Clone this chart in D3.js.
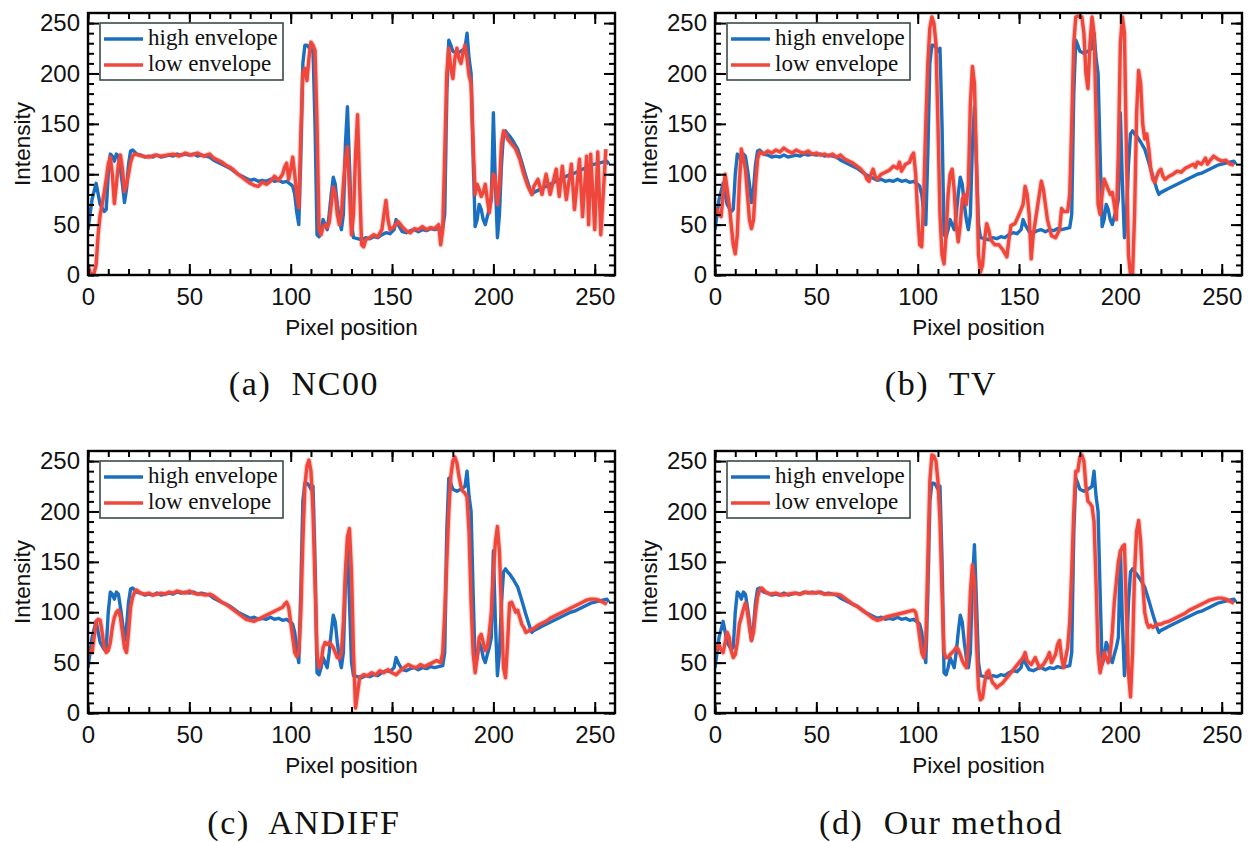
<!DOCTYPE html>
<html>
<head>
<meta charset="utf-8">
<script src="https://cdn.jsdelivr.net/npm/d3@7"></script>
<style>
  body { margin: 0; background: #fff; }
  .tick text { font-family: "Liberation Sans", Arial, sans-serif; font-size: 24px; fill: #111; }
  .axis-label { font-family: "Liberation Sans", Arial, sans-serif; font-size: 22.5px; fill: #111; }
  .legend text { font-family: "Liberation Serif", "Times New Roman", serif; font-size: 23px; fill: #111; }
  .caption { font-family: "Liberation Serif", "Times New Roman", serif; font-size: 34px; letter-spacing: 1.6px; fill: #111; }
</style>
</head>
<body>
<div id="chart"></div>
<script>
// tick labels & legend / caption texts
const xMajor = [0, 50, 100, 150, 200, 250];
const yMajor = [0, 50, 100, 150, 200, 250];
const minorTicks = d3.range(0, 260, 10);
const legendLabels = ["high envelope", "low envelope"];
const captions = ["(a)  NC00", "(b)  TV", "(c)  ANDIFF", "(d)  Our method"];

// high envelope (same reference in every panel)
const highEnvelope = [[0,45],[2,75],[4,91],[6,70],[8,63],[9,65],[10,100],[11,120],[12,118],[13,113],[14,120],[15,118],[16,105],[17,90],[18,72],[19,85],[20,110],[21,123],[22,124],[24,120],[26,119],[28,117],[30,118],[32,117],[34,119],[36,117],[38,118],[40,119],[42,118],[44,120],[46,119],[48,120],[50,119],[52,120],[54,118],[56,119],[58,118],[60,117],[62,114],[64,112],[66,110],[68,108],[70,106],[72,103],[74,100],[76,98],[78,96],[80,94],[82,95],[84,93],[86,94],[88,93],[90,95],[92,93],[94,94],[96,92],[98,93],[100,90],[101,88],[102,80],[103,62],[104,50],[105,120],[106,210],[107,228],[108,228],[109,226],[110,222],[111,225],[112,150],[113,40],[114,38],[115,45],[116,55],[117,50],[118,45],[119,60],[120,80],[121,97],[122,90],[123,70],[124,55],[125,45],[126,60],[127,130],[128,167],[129,110],[130,50],[131,37],[133,36],[135,35],[137,37],[139,36],[141,38],[143,37],[145,40],[147,42],[149,41],[151,45],[152,55],[153,50],[155,43],[157,42],[159,44],[161,45],[163,43],[165,45],[167,44],[169,46],[171,45],[173,46],[175,47],[176,60],[177,180],[178,233],[179,228],[180,222],[182,220],[184,222],[186,225],[187,240],[188,215],[189,200],[190,120],[191,48],[192,55],[193,70],[194,65],[195,55],[196,50],[197,58],[198,65],[199,75],[200,161],[201,90],[202,37],[203,60],[204,110],[205,140],[206,143],[207,140],[208,138],[210,132],[212,125],[214,112],[216,98],[218,85],[219,80],[220,82],[222,84],[224,86],[226,88],[228,90],[230,92],[232,94],[234,96],[236,98],[238,100],[240,101],[242,103],[244,105],[246,107],[248,109],[250,110],[252,111],[254,112],[256,113],[257,110]];

// low envelope, one per method
const lowNC00 = [[0,10],[1,3],[2,0],[3,2],[4,10],[5,40],[6,60],[7,70],[8,82],[9,95],[10,110],[11,117],[12,100],[13,71],[14,90],[15,110],[16,119],[17,105],[18,83],[19,90],[20,100],[21,112],[22,118],[23,120],[25,119],[27,118],[30,117],[33,119],[36,118],[39,119],[42,120],[45,118],[48,121],[51,119],[54,121],[57,118],[60,120],[62,116],[64,114],[66,112],[68,109],[70,107],[72,104],[74,100],[76,97],[78,94],[80,91],[82,89],[84,88],[86,92],[88,90],[90,93],[92,98],[94,94],[96,100],[97,107],[98,111],[99,95],[100,105],[101,117],[102,100],[103,80],[104,67],[105,140],[106,200],[107,205],[108,193],[109,215],[110,231],[111,228],[112,223],[113,150],[114,45],[115,40],[116,48],[117,50],[118,47],[119,52],[120,70],[121,87],[122,80],[123,60],[124,50],[125,60],[126,90],[127,115],[128,127],[129,85],[130,40],[131,60],[132,120],[133,159],[134,90],[135,30],[136,28],[137,35],[139,37],[141,40],[143,38],[145,45],[146,60],[147,74],[148,55],[149,45],[151,48],[153,53],[155,48],[157,44],[159,42],[161,46],[163,45],[165,48],[167,45],[169,47],[171,46],[173,50],[174,30],[175,45],[176,120],[177,200],[178,225],[179,205],[180,195],[181,215],[182,225],[183,215],[184,210],[185,220],[186,228],[187,215],[188,198],[189,190],[190,130],[191,80],[192,90],[193,85],[194,78],[195,82],[196,90],[197,75],[198,62],[199,80],[200,100],[201,95],[202,70],[203,90],[204,130],[205,143],[206,140],[207,135],[209,130],[211,125],[213,115],[215,100],[217,88],[219,80],[220,88],[222,95],[224,80],[226,100],[228,80],[231,105],[232.5,78],[234,108],[236,75],[238.5,110],[240,65],[242.5,115],[244,58],[246,118],[247,50],[248,120],[250,45],[251.5,122],[253,40],[255.5,125]];

const lowTV = [[0,62],[1,65],[2,60],[3,58],[4,80],[5,100],[6,85],[7,70],[8,50],[9,30],[10,21],[11,40],[12,90],[13,125],[14,115],[15,105],[16,80],[17,55],[18,46],[19,55],[20,90],[21,115],[22,122],[24,120],[26,123],[28,121],[30,124],[32,122],[34,126],[36,123],[38,121],[40,124],[42,122],[44,121],[46,123],[48,120],[50,121],[52,119],[54,120],[56,118],[58,120],[60,117],[62,119],[64,115],[66,113],[68,111],[70,108],[72,105],[74,100],[75,95],[76,93],[77,100],[78,105],[79,98],[80,95],[82,100],[84,102],[86,104],[88,108],[90,106],[91,112],[92,103],[94,110],[96,112],[97,118],[98,121],[99,100],[100,60],[101,30],[102,28],[103,80],[104,150],[105,210],[106,245],[107,256],[108,250],[109,230],[110,150],[111,60],[112,20],[113,11],[114,40],[115,80],[116,100],[117,105],[118,85],[119,50],[120,33],[121,50],[122,75],[123,80],[124,70],[125,90],[126,170],[127,207],[128,190],[129,110],[130,20],[131,3],[132,10],[133,35],[134,51],[135,45],[136,35],[138,30],[140,30],[142,25],[144,18],[145,35],[146,49],[148,51],[150,60],[152,70],[153,88],[154,80],[155,60],[156,16],[157,40],[158,53],[160,80],[161,93],[162,85],[163,70],[164,55],[166,39],[168,37],[170,45],[171,66],[172,63],[174,63],[175,80],[176,150],[177,230],[178,256],[179,257],[180,256],[181,256],[182,240],[183,200],[184,185],[185,230],[186,256],[187,240],[188,160],[189,70],[190,60],[191,80],[192,95],[193,90],[194,85],[195,80],[196,82],[197,70],[198,55],[199,120],[200,230],[201,256],[202,240],[203,120],[204,20],[205,0],[206,0],[207,60],[208,160],[209,203],[210,190],[211,150],[212,135],[213,140],[214,125],[215,105],[216,95],[217,92],[218,98],[219,103],[220,105],[221,98],[222,95],[224,98],[226,100],[228,103],[230,102],[232,106],[234,108],[236,110],[237,107],[238,112],[240,110],[242,116],[243,110],[244,113],[246,118],[248,115],[250,113],[252,114],[254,110],[256,109]];

const lowANDIFF = [[0,58],[1,62],[2,60],[3,75],[4,90],[5,93],[6,92],[7,80],[8,65],[9,60],[10,62],[11,70],[12,85],[13,95],[14,100],[15,102],[16,95],[17,80],[18,65],[19,60],[20,80],[21,105],[22,115],[23,120],[24,122],[26,119],[28,118],[30,119],[32,117],[34,118],[36,119],[38,118],[40,120],[42,119],[44,121],[46,120],[48,119],[50,121],[52,119],[54,118],[56,118],[58,117],[60,118],[62,116],[64,113],[66,110],[68,108],[70,105],[72,102],[74,99],[76,96],[78,93],[80,92],[82,91],[84,93],[86,95],[88,97],[90,99],[92,101],[94,103],[96,105],[97,108],[98,110],[99,105],[100,90],[101,75],[102,60],[103,56],[104,60],[105,100],[106,170],[107,225],[108,245],[109,251],[110,240],[111,200],[112,130],[113,60],[114,45],[115,50],[116,65],[117,70],[118,68],[119,70],[120,68],[121,65],[122,60],[123,55],[124,54],[125,60],[126,90],[127,140],[128,175],[129,183],[130,140],[131,60],[132,5],[133,20],[134,35],[136,38],[138,37],[140,40],[142,38],[144,42],[146,40],[148,43],[150,40],[152,38],[154,42],[156,45],[158,48],[160,46],[162,45],[164,48],[166,46],[168,48],[170,50],[172,52],[174,50],[175,60],[176,100],[177,150],[178,200],[179,235],[180,250],[181,254],[182,248],[183,235],[184,225],[185,220],[186,218],[187,214],[188,180],[189,110],[190,60],[191,40],[192,55],[193,75],[194,78],[195,70],[196,62],[197,65],[198,80],[199,100],[200,140],[201,170],[202,185],[203,160],[204,100],[205,45],[206,35],[207,70],[208,109],[209,110],[210,105],[211,100],[212,102],[213,95],[214,88],[215,85],[216,80],[218,82],[220,84],[222,87],[224,89],[226,91],[228,94],[230,96],[232,98],[234,100],[236,102],[238,104],[240,106],[242,108],[244,110],[246,112],[248,113],[250,113],[252,112],[254,110],[256,108]];

const lowOurs = [[0,60],[1,65],[2,68],[3,62],[4,60],[5,70],[6,80],[7,75],[8,62],[9,55],[10,58],[11,70],[12,88],[13,95],[14,103],[15,109],[16,100],[17,85],[18,72],[19,80],[20,100],[21,115],[22,122],[23,124],[25,120],[27,118],[30,119],[33,117],[36,118],[39,119],[42,118],[45,120],[48,119],[51,120],[54,118],[57,118],[60,118],[62,117],[64,114],[66,111],[68,108],[70,106],[72,103],[74,100],[76,97],[78,94],[80,92],[82,93],[84,95],[86,96],[88,97],[90,98],[92,99],[94,100],[96,101],[98,102],[99,100],[100,90],[101,75],[102,60],[103,55],[104,70],[105,150],[106,230],[107,256],[108,255],[109,250],[110,230],[111,190],[112,120],[113,60],[114,55],[115,55],[116,58],[117,60],[118,62],[119,65],[120,63],[121,58],[122,52],[123,48],[124,45],[125,70],[126,120],[127,147],[128,130],[129,70],[130,25],[131,13],[132,15],[133,30],[134,40],[135,42],[136,35],[137,30],[138,28],[139,25],[140,27],[142,30],[144,35],[146,40],[148,45],[150,50],[152,55],[153,60],[154,52],[156,48],[158,55],[160,45],[162,48],[164,55],[165,60],[166,50],[168,58],[169,68],[170,72],[171,55],[172,45],[173,55],[174,65],[175,90],[176,140],[177,200],[178,240],[179,240],[180,254],[181,256],[182,250],[183,225],[184,210],[185,208],[186,205],[187,190],[188,130],[189,60],[190,40],[191,50],[192,60],[193,55],[194,50],[195,60],[196,80],[197,110],[198,130],[199,150],[200,160],[201,165],[202,167],[203,100],[204,40],[205,16],[206,60],[207,140],[208,180],[209,191],[210,170],[211,130],[212,100],[213,90],[214,85],[215,87],[216,85],[218,88],[220,88],[222,90],[224,91],[226,93],[228,95],[230,97],[232,99],[234,102],[236,104],[238,106],[240,108],[242,110],[244,112],[246,113],[248,114],[250,114],[252,113],[254,111],[256,109]];

const lowSeries = [lowNC00, lowTV, lowANDIFF, lowOurs];

const BLUE = "#1b6fc0";
const RED = "#f0473c";

const panels = [
    { left: 88, top: 13, capX: 304, capY: 395 },
    { left: 715, top: 13, capX: 941, capY: 395 },
    { left: 88, top: 451, capX: 304, capY: 834 },
    { left: 715, top: 451, capX: 941, capY: 834 }
];
const width = 527, height = 262;

const svg = d3.select("#chart").append("svg")
    .attr("width", 1249)
    .attr("height", 842);

panels.forEach(function (p, i) {
    const x = d3.scaleLinear().domain([0, 260]).range([0, width]);
    const y = d3.scaleLinear().domain([0, 260]).range([height, 0]);

    const g = svg.append("g").attr("transform", "translate(" + p.left + "," + p.top + ")");

    const clipId = "clip" + i;
    g.append("clipPath").attr("id", clipId)
        .append("rect").attr("width", width).attr("height", height);

    const line = d3.line().x(d => x(d[0])).y(d => y(d[1]));

    const plot = g.append("g").attr("clip-path", "url(#" + clipId + ")");
    plot.append("path").datum(highEnvelope)
        .attr("fill", "none").attr("stroke", BLUE).attr("stroke-width", 3.4)
        .attr("stroke-linejoin", "round").attr("d", line);
    // soft halo under the red line, like the blurred original
    plot.append("path").datum(lowSeries[i])
        .attr("fill", "none").attr("stroke", RED).attr("stroke-width", 5.5)
        .attr("stroke-opacity", 0.25).attr("stroke-linejoin", "round").attr("d", line);
    plot.append("path").datum(lowSeries[i])
        .attr("fill", "none").attr("stroke", RED).attr("stroke-width", 3.4)
        .attr("stroke-linejoin", "round").attr("d", line);

    // minor ticks on all four sides
    const minorAxes = [
        { ax: d3.axisBottom(x), t: "translate(0," + height + ")" },
        { ax: d3.axisTop(x), t: "translate(0,0)" },
        { ax: d3.axisLeft(y), t: "translate(0,0)" },
        { ax: d3.axisRight(y), t: "translate(" + width + ",0)" }
    ];
    minorAxes.forEach(function (m) {
        g.append("g").attr("transform", m.t)
            .call(m.ax.tickValues(minorTicks).tickSize(-6).tickFormat(""))
            .call(s => s.select(".domain").remove())
            .selectAll("line").attr("stroke", "#000").attr("stroke-width", 2);
    });

    // major ticks + labels
    g.append("g").attr("class", "axis-x").attr("transform", "translate(0," + height + ")")
        .call(d3.axisBottom(x).tickValues(xMajor).tickSize(-11).tickPadding(13))
        .call(s => s.select(".domain").remove())
        .selectAll("line").attr("stroke", "#000").attr("stroke-width", 2);
    g.append("g").attr("class", "axis-y")
        .call(d3.axisLeft(y).tickValues(yMajor).tickSize(-11).tickPadding(8))
        .call(s => s.select(".domain").remove())
        .selectAll("line").attr("stroke", "#000").attr("stroke-width", 2);
    g.append("g")
        .call(d3.axisTop(x).tickValues(xMajor).tickSize(-11).tickFormat(""))
        .call(s => s.select(".domain").remove())
        .selectAll("line").attr("stroke", "#000").attr("stroke-width", 2);
    g.append("g").attr("transform", "translate(" + width + ",0)")
        .call(d3.axisRight(y).tickValues(yMajor).tickSize(-11).tickFormat(""))
        .call(s => s.select(".domain").remove())
        .selectAll("line").attr("stroke", "#000").attr("stroke-width", 2);

    g.selectAll(".tick text").attr("fill", "#111");

    // frame
    g.append("rect").attr("width", width).attr("height", height)
        .attr("fill", "none").attr("stroke", "#000").attr("stroke-width", 2.4);

    // axis titles
    g.append("text").attr("class", "axis-label")
        .attr("x", width / 2).attr("y", height + 60)
        .attr("text-anchor", "middle").text("Pixel position");
    g.append("text").attr("class", "axis-label")
        .attr("transform", "translate(" + (-58) + "," + (height / 2) + ") rotate(-90)")
        .attr("text-anchor", "middle").text("Intensity");

    // legend
    const leg = g.append("g").attr("class", "legend").attr("transform", "translate(12,10)");
    leg.append("rect").attr("width", 183).attr("height", 57)
        .attr("fill", "#fff").attr("stroke", "#3a4a4a").attr("stroke-width", 1.6);
    [BLUE, RED].forEach(function (c, k) {
        const ly = 16 + k * 26;
        leg.append("line").attr("x1", 4).attr("x2", 43).attr("y1", ly).attr("y2", ly)
            .attr("stroke", c).attr("stroke-width", 3.6);
        leg.append("text").attr("x", 48).attr("y", ly + 6).text(legendLabels[k]);
    });

    // caption
    svg.append("text").attr("class", "caption")
        .attr("x", p.capX).attr("y", p.capY)
        .attr("text-anchor", "middle")
        .attr("xml:space", "preserve")
        .text(captions[i]);
});
</script>
</body>
</html>
